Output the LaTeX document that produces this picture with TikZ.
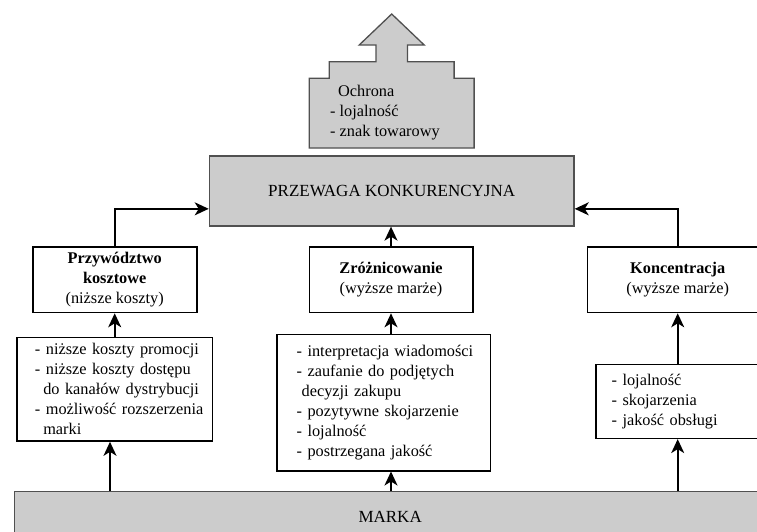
\documentclass[tikz,border=0pt]{standalone}
\usepackage{fontspec}
\setmainfont{Liberation Serif}
\usetikzlibrary{arrows.meta,calc}

\definecolor{boxgray}{HTML}{CCCCCC}
\definecolor{edgegray}{HTML}{505050}

\tikzset{
  every node/.style={font=\fontsize{16.3}{20}\selectfont},
  graybox/.style={draw=edgegray, line width=1.3pt, fill=boxgray, inner sep=0pt,
                  font=\fontsize{17}{20}\selectfont},
  whitebox/.style={draw=black, line width=1.6pt, fill=white, inner sep=0pt, align=center},
  listbox/.style={draw=black, line width=1.6pt, fill=white, align=left,
                  inner xsep=2pt, inner ysep=0pt},
  conn/.style={line width=1.7pt, -{Stealth[length=14pt,width=13pt,inset=4pt]}},
}

\begin{document}
\begin{tikzpicture}[x=1pt,y=-1pt]
  \clip (0,0) rectangle (757,531);
  \fill[white] (0,0) rectangle (757,531);

  % upward arrow with the protection box
  \draw[fill=boxgray, draw=edgegray, line width=1.3pt]
    (391.7,14) -- (424.2,45) -- (407.4,45) -- (407.4,61.7) -- (454.1,61.7)
    -- (454.1,78.3) -- (474.1,78.3) -- (474.1,148) -- (309.3,148)
    -- (309.3,78.3) -- (329.3,78.3) -- (329.3,61.7) -- (376,61.7)
    -- (376,45) -- (359.2,45) -- cycle;
  \node[anchor=west, align=left, inner sep=0pt] (ochrona) at (330,112.5)
    {\hspace*{8pt}Ochrona\\- lojalność\\- znak towarowy};

  % competitive advantage
  \node[graybox, minimum width=364.7pt, minimum height=70pt] (przewaga)
    at (391.7,191) {PRZEWAGA KONKURENCYJNA};

  % strategies
  \node[whitebox, minimum width=164pt, minimum height=65.5pt] (lb) at (114.7,279.75)
    {\textbf{Przywództwo}\\\textbf{kosztowe}\\(niższe koszty)};
  \node[whitebox, minimum width=163.4pt, minimum height=65.5pt] (mb) at (391,279.75)
    {\textbf{Zróżnicowanie}\\(wyższe marże)};
  \node[whitebox, minimum width=180.4pt, minimum height=65.5pt] (rb) at (677.7,279.75)
    {\textbf{Koncentracja}\\(wyższe marże)};

  % brand effects
  \node[listbox, minimum width=195.6pt, minimum height=103.5pt, text width=191.6pt]
    (ll) at (114.5,389.25)
    {\hspace*{16.3pt}- niższe koszty promocji\\
     \hspace*{16.3pt}- niższe koszty dostępu\\
     \hspace*{24.6pt}do kanałów dystrybucji\\
     \hspace*{16.3pt}- możliwość rozszerzenia\\
     \hspace*{24.6pt}marki};
  \node[listbox, minimum width=213.5pt, minimum height=136.2pt, text width=209.5pt]
    (lm) at (383.75,402.6)
    {\hspace*{17.7pt}- interpretacja wiadomości\\
     \hspace*{17.7pt}- zaufanie do podjętych\\
     \hspace*{22.7pt}decyzji zakupu\\
     \hspace*{17.7pt}- pozytywne skojarzenie\\
     \hspace*{17.7pt}- lojalność\\
     \hspace*{17.7pt}- postrzegana jakość};
  \node[listbox, minimum width=166pt, minimum height=74pt, text width=162pt]
    (lr) at (679,401.3)
    {\hspace*{13.7pt}- lojalność\\
     \hspace*{13.7pt}- skojarzenia\\
     \hspace*{13.7pt}- jakość obsługi};

  % brand
  \node[graybox, minimum width=751.7pt, minimum height=50.5pt] (marka)
    at (390.15,516.75) {MARKA};

  % connectors
  \draw[conn] (lb.north) |- ($(przewaga.south west)!0.25!(przewaga.north west)$);
  \draw[conn] (rb.north) |- ($(przewaga.south east)!0.25!(przewaga.north east)$);
  \draw[conn] (mb.north) -- (mb.north |- przewaga.south);

  \draw[conn] (lb.south |- ll.north) -- (lb.south);
  \draw[conn] (mb.south |- lm.north) -- (mb.south);
  \draw[conn] (rb.south |- lr.north) -- (rb.south);

  \draw[conn] ([xshift=-4.5pt]ll.south |- marka.north) -- ([xshift=-4.5pt]ll.south);
  \draw[conn] (mb.south |- marka.north) -- (mb.south |- lm.south);
  \draw[conn] (rb.south |- marka.north) -- (rb.south |- lr.south);
\end{tikzpicture}
\end{document}
